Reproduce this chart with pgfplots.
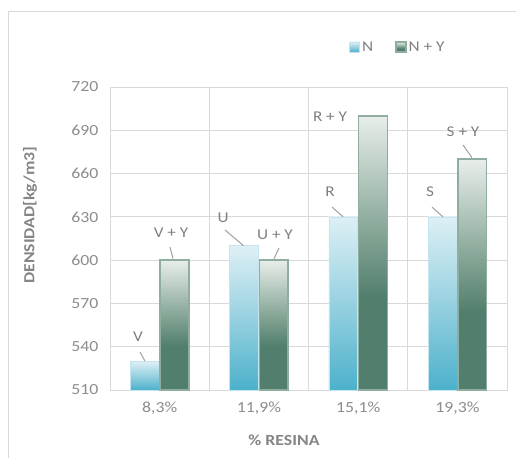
\documentclass[border=0pt]{standalone}
\usepackage{pgfplots}
\pgfplotsset{compat=1.18}
\usepackage{fontspec}
\setmainfont{Carlito}[FakeStretch=1.15]

\definecolor{tickc}{HTML}{8C8C8C}
\definecolor{titlec}{HTML}{858585}
\definecolor{labc}{HTML}{7F7F7F}
\definecolor{gridc}{HTML}{D9D9D9}
\definecolor{leadc}{HTML}{A0A0A0}
\definecolor{ntop}{HTML}{DDF0F5}
\definecolor{nmid}{HTML}{9DD3E2}
\definecolor{nbot}{HTML}{4CB1CB}
\definecolor{nbord}{HTML}{C4E5EE}
\definecolor{ytop}{HTML}{E8EEEA}
\definecolor{ymid}{HTML}{82A393}
\definecolor{ybot}{HTML}{527F6D}
\definecolor{ybord}{HTML}{8FAE9F}

% the path's box maps onto the 25bp--75bp band of a declared shading
\pgfdeclareverticalshading{nshade}{100bp}{color(0bp)=(nbot); color(25bp)=(nbot); color(52bp)=(nmid); color(75bp)=(ntop); color(100bp)=(ntop)}
\pgfdeclareverticalshading{yshade}{100bp}{color(0bp)=(ybot); color(25bp)=(ybot); color(42bp)=(ybot); color(53bp)=(ymid); color(75bp)=(ytop); color(100bp)=(ytop)}

% one bar per plot, so that every bar gets its own gradient
\pgfplotsset{
  barN/.style={bar width=0.29, bar shift=-0.15, draw=nbord, line width=0.6bp, shading=nshade,
    legend image code/.code={\fill[fill=nmid!75!nbot] (0bp,-5bp) rectangle (10bp,5bp);}},
  barNY/.style={bar width=0.29, bar shift=0.15, draw=ybord, line width=1.5bp, shading=yshade,
    legend image code/.code={\fill[fill=ymid!55!ybot, draw=ybord] (0bp,-5bp) rectangle (10bp,5bp);}},
}

\begin{document}
\begin{tikzpicture}[x=1bp,y=1bp]
\path (0,0) rectangle (524,458);
\draw[gridc, line width=1bp] (8,0) -- (8,446) -- (516,446);

\begin{axis}[
  at={(110bp,68bp)}, anchor=south west,
  scale only axis, width=397bp, height=303bp,
  clip=false,
  ybar,
  xmin=-0.5, xmax=3.5,
  ymin=510, ymax=720,
  ytick={510,540,...,720},
  xtick={0,1,2,3},
  xticklabels={{8,3\%},{11,9\%},{15,1\%},{19,3\%}},
  minor xtick={0.5,1.5,2.5},
  xminorgrids, ymajorgrids,
  major tick length=0pt, minor tick length=0pt,
  axis line style={gridc, line width=0.8bp},
  grid style={gridc, line width=0.8bp},
  minor grid style={gridc, line width=0.8bp},
  tick label style={font=\fontsize{15.5}{18}\selectfont, text=tickc},
  /pgf/number format/assume math mode=true,
  yticklabel style={xshift=-8bp},
  xticklabel style={yshift=-8bp},
  legend style={at={(axis description cs:0.595,1.132)}, anchor=west,
    draw=none, fill=none, font=\fontsize{15}{17}\selectfont, text=labc,
    legend columns=2, /tikz/every even column/.append style={column sep=20bp}},
  legend cell align=left,
]
% N
\addplot[barN] coordinates {(0,530)};
\addlegendentry{N}
% N + Y
\addplot[barNY] coordinates {(0,600)};
\addlegendentry{N + Y}
\addplot[barN, forget plot] coordinates {(1,610)};
\addplot[barN, forget plot] coordinates {(2,630)};
\addplot[barN, forget plot] coordinates {(3,630)};
\addplot[barNY, forget plot] coordinates {(1,600)};
\addplot[barNY, forget plot] coordinates {(2,700)};
\addplot[barNY, forget plot] coordinates {(3,670)};

% point labels with leader lines
\begin{scope}[every node/.style={font=\fontsize{15}{18}\selectfont, text=labc, inner sep=0pt}]
\node at (axis cs:-0.218,546.7) {V};
\draw[leadc, line width=1bp] (axis cs:-0.198,536.3) -- (axis cs:-0.147,530);
\node at (axis cs:0.115,618.8) {V + Y};
\draw[leadc, line width=1bp] (axis cs:0.105,609) -- (axis cs:0.135,601);
\node at (axis cs:0.639,629.2) {U};
\draw[leadc, line width=1bp] (axis cs:0.659,620.9) -- (axis cs:0.845,610);
\node at (axis cs:1.162,617.4) {U + Y};
\draw[leadc, line width=1bp] (axis cs:1.203,608.4) -- (axis cs:1.152,601);
\node at (axis cs:1.717,647.2) {R};
\draw[leadc, line width=1bp] (axis cs:1.737,636.8) -- (axis cs:1.848,630);
\node at (axis cs:1.717,699.4) {R + Y};
\node at (axis cs:2.724,647.2) {S};
\draw[leadc, line width=1bp] (axis cs:2.744,636.8) -- (axis cs:2.855,630);
\node at (axis cs:3.057,689) {S + Y};
\draw[leadc, line width=1bp] (axis cs:3.057,679.8) -- (axis cs:3.147,671);
\end{scope}
\end{axis}

\node[rotate=90, font=\bfseries\fontsize{15.5}{19}\selectfont, text=titlec] at (30,243) {DENSIDAD[kg/m3]};
\node[font=\bfseries\fontsize{15.5}{19}\selectfont, text=titlec] at (284,18) {\% RESINA};
\end{tikzpicture}
\end{document}
